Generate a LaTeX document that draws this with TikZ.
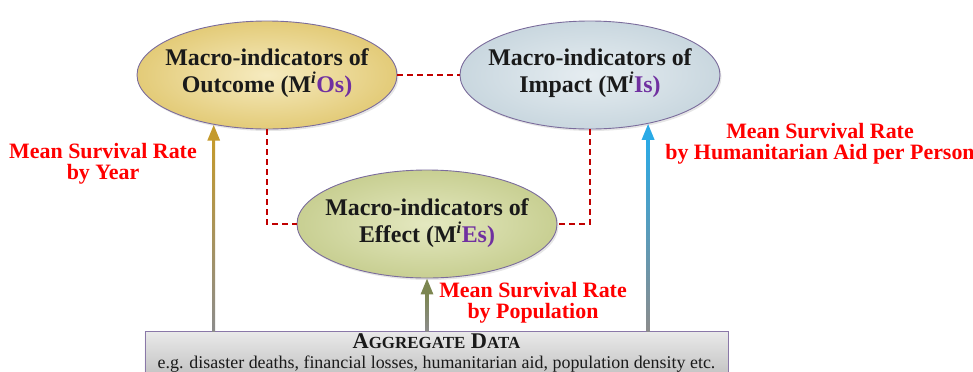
\documentclass[tikz,border=0pt]{standalone}
\usepackage{fontspec}
\setmainfont{Liberation Serif}
\usetikzlibrary{arrows.meta,shapes.geometric,shadows,calc}
\definecolor{ink}{HTML}{1A1A1A}
\definecolor{dashred}{HTML}{C00000}
\definecolor{labred}{HTML}{FF0000}
\definecolor{tagpurple}{HTML}{7030A0}
\definecolor{rim}{HTML}{7B6C9C}
\definecolor{outin}{HTML}{F6EBC0}
\definecolor{outout}{HTML}{E3CB78}
\definecolor{impin}{HTML}{E6EDF1}
\definecolor{impout}{HTML}{C9D7DF}
\definecolor{effin}{HTML}{E4E8C0}
\definecolor{effout}{HTML}{C8CF92}
\definecolor{boxtop}{HTML}{E9E9E9}
\definecolor{boxbot}{HTML}{C4C4C4}
\definecolor{boxrim}{HTML}{8A78A8}
\definecolor{yearc}{HTML}{C49A2C}
\definecolor{aidc}{HTML}{2AAAE6}
\definecolor{popc}{HTML}{7C8650}
\definecolor{shaftgray}{HTML}{8C8C8C}

\tikzset{
  macro/.style={ellipse,draw=rim,line width=0.9pt,inner sep=0pt,
    minimum width=260bp,minimum height=108bp,shading=radial,
    drop shadow={opacity=0.2,shadow xshift=1.5bp,shadow yshift=-2bp}},
  macrotext/.style={align=center,text=ink,
    font=\fontsize{24}{27}\selectfont\bfseries},
  link/.style={dashred,line width=2.6bp,dash pattern=on 6bp off 4bp},
  rise/.style={line width=3bp,-{Triangle[length=16bp,width=12bp]}},
  ratelabel/.style={text=labred,align=center,
    font=\fontsize{22}{21}\selectfont\bfseries},
}

\begin{document}
\begin{tikzpicture}[x=1bp,y=-1bp]
  \useasboundingbox (0,0) rectangle (973,371);

  % the three groups of macro-indicators
  \node[macro,inner color=outin,outer color=outout] (outcome) at (267,75) {};
  \node[macrotext] (outcometext) at ($(outcome)+(0,-2)$)
    {Macro-indicators of\\Outcome (M\textsuperscript{\itshape i}\textcolor{tagpurple}{Os)}};
  \node[macro,inner color=impin,outer color=impout] (impact) at (590,75) {};
  \node[macrotext] (impacttext) at ($(impact)+(0,-2)$)
    {Macro-indicators of\\Impact (M\textsuperscript{\itshape i}\textcolor{tagpurple}{Is)}};
  \node[macro,inner color=effin,outer color=effout] (effect) at (427,224) {};
  \node[macrotext] (effecttext) at ($(effect)+(0,-1)$)
    {Macro-indicators of\\Effect (M\textsuperscript{\itshape i}\textcolor{tagpurple}{Es)}};

  \draw[link] (outcome.east) -- (impact.west);
  \draw[link] (outcome.south) |- (effect.west);
  \draw[link] (impact.south) |- (effect.east);

  % data box
  \node[draw=boxrim,line width=1pt,top color=boxtop,bottom color=boxbot,
    minimum width=583bp,inner ysep=2bp,anchor=north,align=center,text=ink,
    font=\fontsize{18}{20}\selectfont] (agg) at (436.5,331)
    {{\bfseries\fontsize{22.5}{20}\selectfont A{\fontsize{17}{20}\selectfont GGREGATE}
      D{\fontsize{17}{20}\selectfont ATA}}\\
     e.g. disaster deaths, financial losses, humanitarian aid,
     population density etc.};

  % rising arrows
  \coordinate (yearfoot) at (agg.north -| outcome.223);
  \coordinate (aidfoot) at (agg.north -| impact.320);
  \coordinate (popfoot) at (agg.north -| effect.south);

  \draw[rise,yearc] (yearfoot) -- (outcome.223);
  \shade[bottom color=shaftgray,top color=yearc]
    ($(yearfoot)+(-1.5,0)$) rectangle ($(outcome.223)+(1.5,15)$);
  \draw[rise,aidc] (aidfoot) -- (impact.320);
  \shade[bottom color=shaftgray,top color=aidc]
    ($(aidfoot)+(-1.5,0)$) rectangle ($(impact.320)+(1.5,15)$);
  \draw[rise,popc] (popfoot) -- (effect.south);
  \shade[bottom color=shaftgray,top color=popc]
    ($(popfoot)+(-1.5,0)$) rectangle ($(effect.south)+(1.5,15)$);

  \node[ratelabel] (byyear) at (103,164) {Mean Survival Rate\\by Year};
  \node[ratelabel] (byaid) at (820,144)
    {Mean Survival Rate\\by Humanitarian Aid per Person};
  \node[ratelabel] (bypop) at (533,303) {Mean Survival Rate\\by Population};
\end{tikzpicture}
\end{document}
